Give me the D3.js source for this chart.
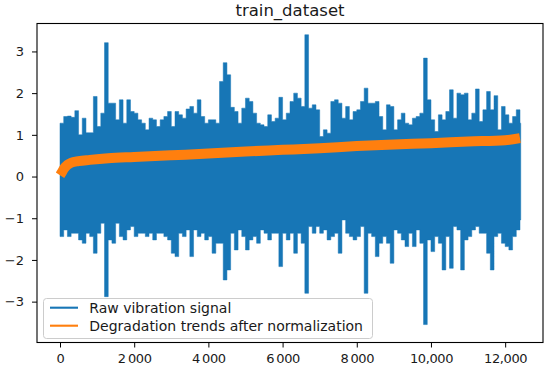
<!DOCTYPE html>
<html><head><meta charset="utf-8">
<script src="https://cdn.jsdelivr.net/npm/d3@7"></script>
<style>body{margin:0;background:#fff} svg{display:block;font-family:"DejaVu Sans",sans-serif}</style>
</head><body><svg id="c" width="550" height="369"></svg>
<script>
// ---- data ----
const title = "train_dataset";
const seriesNames = ["Raw vibration signal", "Degradation trends after normalization"];
const binSize = 100; // samples per envelope bin
const sampleCount = 12420;
const rawUpper = [1.28,1.44,1.45,1.42,1.58,1.00,1.40,1.05,1.05,1.92,1.20,1.52,3.21,1.76,1.76,1.36,1.84,1.28,1.84,1.56,
  1.52,1.36,1.28,1.12,1.40,1.36,1.20,1.36,1.44,1.56,1.20,1.56,1.48,1.40,1.62,1.68,1.52,1.84,1.44,1.28,
  1.36,1.36,1.28,2.28,2.73,2.44,1.66,1.56,1.28,1.64,1.88,1.80,1.52,1.28,1.24,1.20,1.48,1.32,1.40,1.90,
  1.36,1.52,1.80,2.00,1.88,1.68,3.40,1.64,1.72,1.60,0.96,1.12,1.04,1.80,1.84,1.76,1.40,1.68,1.36,1.56,
  1.60,1.80,2.12,1.76,1.76,1.80,1.44,1.12,1.72,1.68,1.12,1.36,1.52,1.28,1.24,1.40,1.44,1.52,2.84,1.84,
  1.36,1.08,1.48,1.36,1.56,2.08,1.40,2.00,1.96,2.00,1.36,1.52,2.10,1.32,1.60,2.04,1.60,1.94,1.12,1.68,
  1.48,1.28,1.44,1.60,1.28];
const rawLower = [-1.44,-1.28,-1.44,-1.36,-1.36,-1.52,-1.60,-1.36,-1.44,-1.84,-1.36,-1.12,-2.88,-1.52,-1.60,-1.12,-1.44,-1.52,-1.28,-1.20,
  -1.44,-1.36,-1.36,-1.44,-1.36,-1.52,-1.36,-1.36,-1.44,-1.52,-1.84,-1.92,-1.36,-1.44,-1.28,-1.92,-1.28,-1.44,-1.36,-1.52,
  -1.44,-1.84,-1.60,-1.60,-2.48,-2.24,-1.36,-1.76,-1.28,-1.44,-1.76,-1.52,-1.44,-1.60,-1.28,-1.36,-1.52,-1.36,-1.36,-2.16,
  -1.36,-1.52,-1.36,-1.84,-1.36,-1.60,-2.80,-1.20,-1.36,-1.20,-1.36,-1.28,-1.52,-1.44,-1.36,-1.84,-1.04,-1.36,-1.44,-1.52,
  -1.44,-1.20,-2.80,-1.36,-1.44,-1.92,-1.60,-1.44,-1.60,-2.08,-1.28,-1.36,-1.52,-1.68,-1.36,-1.68,-1.28,-1.60,-3.55,-1.52,
  -1.80,-1.44,-1.60,-2.24,-1.44,-2.20,-1.20,-1.28,-2.24,-1.52,-1.44,-1.28,-1.20,-1.36,-1.36,-1.84,-2.24,-1.44,-1.36,-1.60,
  -1.68,-1.76,-1.44,-1.28,-1.04];
const trendX = [0,50,100,200,300,500,800,1300,2000,3000,4000,5000,6000,7000,8000,9000,10000,11000,12000,12400];
const trendY = [0.03,0.10,0.18,0.28,0.33,0.37,0.40,0.44,0.47,0.51,0.55,0.60,0.64,0.68,0.73,0.77,0.80,0.84,0.87,0.92];
const xTicks = [0,2000,4000,6000,8000,10000,12000];
const xTickLabels = ["0","2\u2009000","4\u2009000","6\u2009000","8\u2009000","10,000","12,000"];
const yTicks = [-3,-2,-1,0,1,2,3];

// ---- layout ----
const svg = d3.select("#c");
const L = 37, R = 543, T = 23.5, B = 342.5;
const x = d3.scaleLinear().domain([-620, 13020]).range([L, R]);
const y = d3.scaleLinear().domain([-3.98, 3.67]).range([B, T]);
const blue = "#1776b6", orange = "#ff7f0e";

svg.append("clipPath").attr("id","clip").append("rect")
  .attr("x",L).attr("y",T).attr("width",R-L).attr("height",B-T);

const g = svg.append("g").attr("clip-path","url(#clip)");

// raw signal: per-bin peak/trough envelope (dense signal rendered as filled band)
const rawBins = rawUpper.map((u,i)=>({s: i*binSize, hi: u, lo: rawLower[i]}));
rawBins.push({s: sampleCount, hi: rawUpper[rawUpper.length-1], lo: rawLower[rawLower.length-1]});
g.append("path").datum(rawBins)
  .attr("fill",blue).attr("stroke",blue).attr("stroke-width",0.5).attr("stroke-linejoin","miter")
  .attr("d", d3.area().curve(d3.curveStepAfter).x(d=>x(d.s)).y0(d=>y(d.lo)).y1(d=>y(d.hi)));

// trend
g.append("path").datum(trendX.map((v,i)=>[v,trendY[i]]))
  .attr("fill","none").attr("stroke",orange).attr("stroke-width",10)
  .attr("stroke-linejoin","round")
  .attr("d", d3.line().curve(d3.curveMonotoneX).x(d=>x(d[0])).y(d=>y(d[1])));

// axes
const xa = svg.append("g").attr("transform",`translate(0,${B})`)
  .call(d3.axisBottom(x).tickValues(xTicks).tickFormat((d,i)=>xTickLabels[i]).tickSize(5).tickPadding(6));
const ya = svg.append("g").attr("transform",`translate(${L},0)`)
  .call(d3.axisLeft(y).tickValues(yTicks).tickFormat(d=> d<0 ? "\u2212"+Math.abs(d) : String(d)).tickSize(5).tickPadding(8));
[xa,ya].forEach(a=>{
  a.select(".domain").remove();
  a.selectAll("line").attr("stroke","#000").attr("stroke-width",1);
  a.selectAll("text").attr("font-size",13).attr("fill","#1a1a1a").attr("font-family","DejaVu Sans");
});
xa.selectAll("text").attr("letter-spacing",-0.4);

svg.append("rect").attr("x",L).attr("y",T).attr("width",R-L).attr("height",B-T)
  .attr("fill","none").attr("stroke","#000").attr("stroke-width",1.1);

// title
svg.append("text").attr("x",(L+R)/2).attr("y",16).attr("text-anchor","middle")
  .attr("font-size",16.5).attr("fill","#1a1a1a").text(title);

// legend
const lg = svg.append("g");
lg.append("rect").attr("x",43.5).attr("y",298.5).attr("width",329).attr("height",40).attr("rx",3)
  .attr("fill","#fff").attr("fill-opacity",0.8).attr("stroke","#cccccc").attr("stroke-width",1);
[blue, orange].forEach((c,i)=>{
  const cy = 307.7 + i*18;
  lg.append("line").attr("x1",50).attr("x2",78).attr("y1",cy).attr("y2",cy)
    .attr("stroke",c).attr("stroke-width",2.1);
  lg.append("text").attr("x",89.3).attr("y",cy+5).attr("font-size",14).attr("fill","#1a1a1a")
    .text(seriesNames[i]);
});
</script></body></html>
